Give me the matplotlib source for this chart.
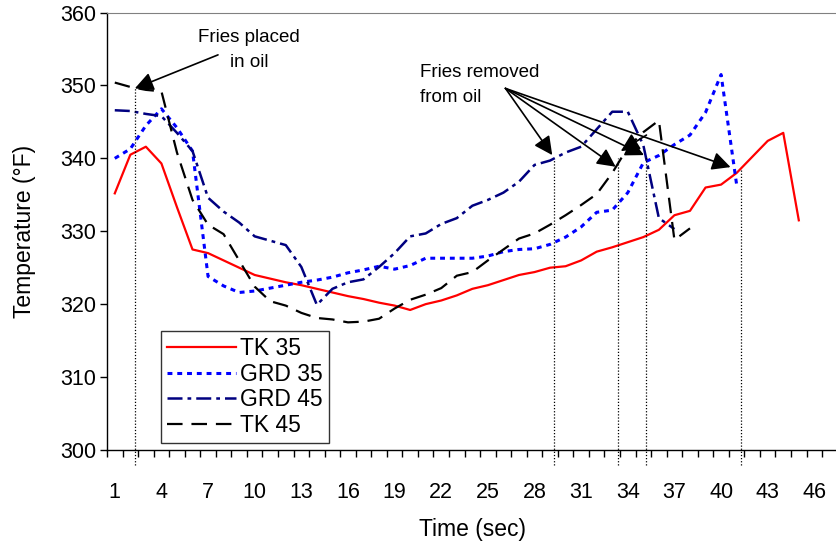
import numpy as np
import matplotlib
matplotlib.use("Agg")
import matplotlib.pyplot as plt

plt.rcParams['font.family'] = ['Liberation Sans', 'DejaVu Sans']

# temperaturas (graus F), uma leitura por segundo
tk35 = [335.2, 340.5, 341.6, 339.3, 333.3, 327.5, 327.0, 326.0, 325.0, 324.0,
        323.5, 323.0, 322.6, 322.1, 321.6, 321.1, 320.7, 320.2, 319.8, 319.2,
        320.0, 320.5, 321.2, 322.1, 322.6, 323.3, 324.0, 324.4, 325.0, 325.2,
        326.0, 327.2, 327.8, 328.5, 329.2, 330.2, 332.2, 332.8, 336.0, 336.4,
        338.0, 340.2, 342.4, 343.5, 331.5]
grd35 = [340.0, 341.3, 344.5, 346.8, 344.2, 341.0, 323.8, 322.5, 321.6, 321.8,
         322.2, 322.6, 323.0, 323.3, 323.7, 324.3, 324.7, 325.2, 324.8, 325.3,
         326.3, 326.3, 326.3, 326.3, 326.6, 327.2, 327.5, 327.6, 328.2, 329.2,
         330.6, 332.6, 332.9, 335.3, 339.4, 340.4, 341.9, 343.2, 346.3, 351.5,
         336.4]
grd45 = [346.6, 346.5, 346.1, 345.8, 343.5, 341.0, 334.6, 332.7, 331.2, 329.3,
         328.7, 328.1, 325.1, 319.9, 322.1, 323.0, 323.4, 325.1, 327.0, 329.3,
         329.7, 331.0, 331.8, 333.5, 334.3, 335.3, 336.8, 339.1, 339.7, 340.8,
         341.6, 344.0, 346.4, 346.4, 341.8, 331.8, 330.3]
tk45 = [350.4, 349.8, 349.4, 349.2, 340.8, 334.3, 330.9, 329.6, 326.0, 322.4,
        320.4, 319.8, 318.8, 318.1, 317.9, 317.5, 317.6, 318.0, 319.4, 320.6,
        321.3, 322.2, 323.9, 324.4, 326.0, 327.5, 329.0, 329.7, 330.9, 332.2,
        333.6, 335.1, 338.0, 341.5, 343.6, 345.2, 328.8, 330.4]

rotulos_x = list(range(1, 47, 3))

# linhas pontilhadas verticais (x, topo)
colocado = (2.29, 349.6)
retirados = [(29.24, 339.8), (33.39, 340.0), (35.19, 340.2), (41.25, 338.6)]
alvos_setas = [(29.14, 340.45), (33.22, 338.85), (35.04, 340.45), (40.61, 338.8)]

fig = plt.figure(figsize=(8.36, 5.48), dpi=100)
ax = fig.add_axes([0.128, 0.179, 0.874, 0.798])

ax.plot(range(1, len(tk35) + 1), tk35, color='#ff0000', lw=1.6, label='TK 35')
ax.plot(range(1, len(grd35) + 1), grd35, color='#0000ff', lw=2.2,
        dashes=(1.6, 1.6), label='GRD 35')
ax.plot(range(1, len(grd45) + 1), grd45, color='#000080', lw=1.8,
        dashes=(6, 2, 1.5, 2), label='GRD 45')
ax.plot(range(1, len(tk45) + 1), tk45, color='black', lw=1.6,
        dashes=(7, 4), label='TK 45')

# linhas pontilhadas ate abaixo do eixo
for x, topo in [colocado] + retirados:
    ax.plot([x, x], [297.9, topo], color='black', lw=0.9, dashes=(1, 1.5),
            clip_on=False)

seta = dict(arrowstyle='-|>', mutation_scale=28, lw=1.2, color='black',
            shrinkA=0, shrinkB=0)
ax.annotate('', xy=colocado, xytext=(7.64, 354.2), arrowprops=seta)
ax.text(9.63, 356.6, 'Fries placed', ha='center', va='center', fontsize=13.5)
ax.text(9.63, 353.2, 'in oil', ha='center', va='center', fontsize=13.5)

for alvo in alvos_setas:
    ax.annotate('', xy=alvo, xytext=(26.13, 349.6), arrowprops=seta)
ax.annotate('', xy=(33.55, 341.0), xytext=(35.2, 343.2), arrowprops=seta)
ax.text(20.65, 351.8, 'Fries removed', ha='left', va='center', fontsize=13.5)
ax.text(20.65, 348.3, 'from oil', ha='left', va='center', fontsize=13.5)

ax.set_xlim(0.5, 47.5)
ax.set_ylim(300, 360)
ax.set_yticks(range(300, 361, 10))
ax.set_xticks(rotulos_x)
ax.set_xticks(np.arange(0.5, 48, 1), minor=True)
ax.tick_params(axis='x', which='major', length=0, pad=23, labelsize=15.5)
ax.tick_params(axis='x', which='minor', length=5, width=1, direction='out')
ax.tick_params(axis='y', length=5, width=1, direction='out', pad=3,
               labelsize=15.5)

ax.spines['right'].set_visible(False)
ax.spines['top'].set_color('#808080')
ax.spines['left'].set_linewidth(1)
ax.spines['bottom'].set_linewidth(1)

ax.set_xlabel('Time (sec)', fontsize=16.5, labelpad=11)
ax.set_ylabel('Temperature (°F)', fontsize=16.5, labelpad=17)

leg = ax.legend(loc='lower left', bbox_to_anchor=(0.074, 0.016),
                fontsize=16.5, frameon=True, fancybox=False,
                handlelength=3.0, handletextpad=0.2, borderpad=0.25,
                labelspacing=0.12, borderaxespad=0)
leg.get_frame().set_edgecolor('black')
leg.get_frame().set_linewidth(1)

fig.savefig('out.png', dpi=100)
